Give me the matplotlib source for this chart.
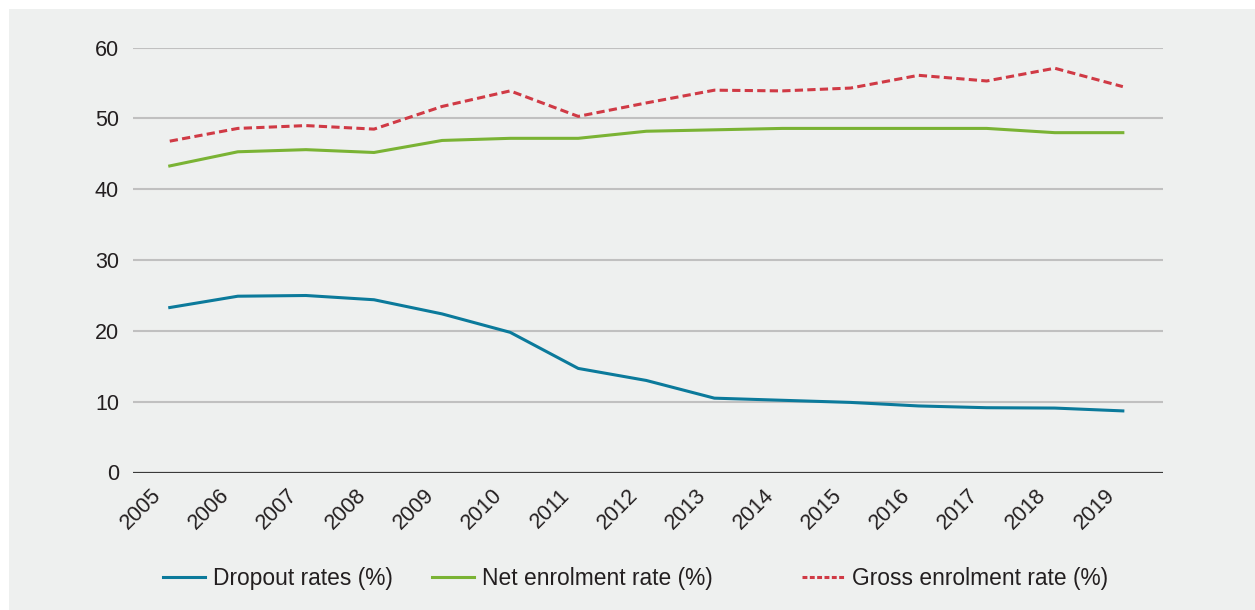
import numpy as np
import matplotlib
matplotlib.use("Agg")
import matplotlib.pyplot as plt
from matplotlib.patches import Rectangle
from matplotlib.lines import Line2D
from matplotlib.transforms import ScaledTranslation

plt.rcParams['font.family'] = ['Liberation Sans', 'DejaVu Sans']

years = list(range(2005, 2020))
dropout = [23.3, 24.9, 25.0, 24.4, 22.4, 19.8, 14.7, 13.0, 10.5, 10.2, 9.9, 9.4, 9.15, 9.1, 8.7]
net_enrol = [43.3, 45.3, 45.6, 45.2, 46.9, 47.2, 47.2, 48.2, 48.4, 48.6, 48.6, 48.6, 48.6, 48.0, 48.0]
gross_enrol = [46.8, 48.6, 49.0, 48.5, 51.7, 53.9, 50.3, 52.2, 54.0, 53.9, 54.3, 56.1, 55.3, 57.1, 54.5]
labels = ["Dropout rates (%)", "Net enrolment rate (%)", "Gross enrolment rate (%)"]
yticks = [0, 10, 20, 30, 40, 50, 60]

bg = "#eef0ef"
txt = "#231f20"
c_drop = "#0b7a9b"
c_net = "#7ab334"
c_gross = "#d03a45"

fig = plt.figure(figsize=(12.55, 6.10), dpi=100)
fig.patch.set_facecolor("white")
# grey panel, leaves a thin white strip at top and left
fig.patches.append(Rectangle((9 / 1255, 0), 1 - 9 / 1255, 1 - 9 / 610,
                             transform=fig.transFigure, facecolor=bg,
                             edgecolor="none", zorder=-10))

ax = fig.add_axes([133 / 1255, 1 - 472.5 / 610, (1163 - 133) / 1255, (472.5 - 47.7) / 610])
ax.set_facecolor("none")

ax.plot(years, dropout, color=c_drop, lw=2.2, zorder=3)
ax.plot(years, net_enrol, color=c_net, lw=2.2, zorder=3)
ax.plot(years, gross_enrol, color=c_gross, lw=2.2, linestyle=(0, (2.7, 1.4)), zorder=3)

ax.set_ylim(0, 60)
ax.set_xlim(2004.46, 2019.59)
ax.set_yticks(yticks)
ax.set_xticks(years)
ax.set_xticklabels([str(y) for y in years], rotation=45, ha="right", va="top")
ax.tick_params(axis="both", length=0, labelsize=15.5, colors=txt)
ax.tick_params(axis="y", pad=10)
ax.tick_params(axis="x", pad=9)
# nudge the rotated year labels a little to the left
shift = ScaledTranslation(-4 / 100, 0, fig.dpi_scale_trans)
for lab in ax.get_xticklabels():
    lab.set_transform(lab.get_transform() + shift)

for y in yticks[1:]:
    ax.axhline(y, color="#c0c0c0", lw=1.5, zorder=1)
ax.axhline(0, color="#3a3a3a", lw=1.6, zorder=2)

for s in ax.spines.values():
    s.set_visible(False)

# three separate legend entries, spaced as in the original
handles = [Line2D([], [], color=c_drop, lw=2.2),
           Line2D([], [], color=c_net, lw=2.2),
           Line2D([], [], color=c_gross, lw=2.2, linestyle=(0, (1.6, 0.8)))]
xpos = [163 / 1255, 432 / 1255, 802 / 1255]
for h, lab, x in zip(handles, labels, xpos):
    fig.legend(handles=[h], labels=[lab], loc="center left", bbox_to_anchor=(x, 32 / 610),
               frameon=False, fontsize=16.4, handlelength=1.85, handletextpad=0.35,
               borderpad=0, borderaxespad=0, labelcolor=txt)

fig.savefig("out.png", dpi=100, facecolor=fig.get_facecolor())
